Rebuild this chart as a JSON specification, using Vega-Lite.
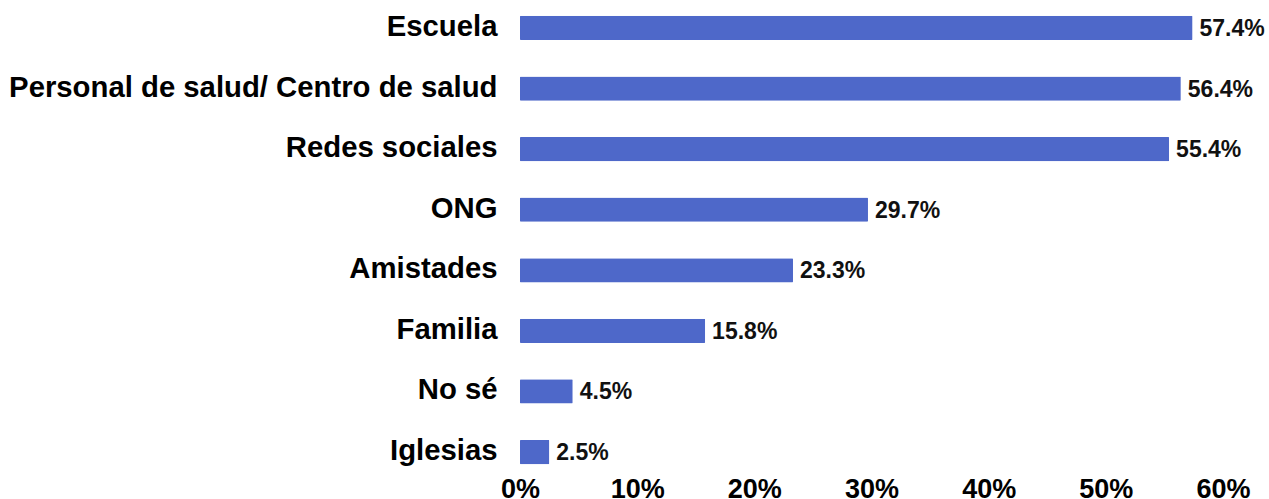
{
  "$schema": "https://vega.github.io/schema/vega-lite/v6.json",
  "autosize": "none",
  "width": 703,
  "height": 480,
  "padding": {"left": 520, "top": 0, "right": 46, "bottom": 19},
  "background": "white",
  "config": {"view": {"stroke": null}, "font": "Liberation Sans"},
  "data": {
    "values": [
      {"source": "Escuela", "share": 0.574},
      {"source": "Personal de salud/ Centro de salud", "share": 0.564},
      {"source": "Redes sociales", "share": 0.554},
      {"source": "ONG", "share": 0.297},
      {"source": "Amistades", "share": 0.233},
      {"source": "Familia", "share": 0.158},
      {"source": "No sé", "share": 0.045},
      {"source": "Iglesias", "share": 0.025}
    ]
  },
  "encoding": {
    "y": {
      "field": "source",
      "type": "nominal",
      "sort": null,
      "scale": {"paddingInner": 0.6, "paddingOuter": 0.262},
      "axis": {
        "title": null,
        "domain": false,
        "ticks": false,
        "labelFont": "Liberation Sans",
        "labelFontSize": 29.3,
        "labelFontWeight": "bold",
        "labelColor": "#000000",
        "labelPadding": 23,
        "labelOffset": -1,
        "labelLimit": 600
      }
    },
    "x": {
      "field": "share",
      "type": "quantitative",
      "scale": {"domain": [0, 0.6], "nice": false},
      "axis": {
        "title": null,
        "domain": false,
        "ticks": false,
        "grid": false,
        "values": [0, 0.1, 0.2, 0.3, 0.4, 0.5, 0.6],
        "format": ".0%",
        "labelFont": "Liberation Sans",
        "labelFontSize": 27,
        "labelFontWeight": "bold",
        "labelColor": "#000000",
        "labelPadding": -4,
        "labelFlush": false,
        "labelOverlap": false
      }
    }
  },
  "layer": [
    {"mark": {"type": "bar", "color": "#4e68c9", "cornerRadius": 1}},
    {
      "mark": {
        "type": "text",
        "align": "left",
        "baseline": "middle",
        "dx": 7,
        "dy": 1,
        "fontSize": 23,
        "fontWeight": "bold",
        "font": "Liberation Sans",
        "color": "#111111"
      },
      "encoding": {"text": {"field": "share", "type": "quantitative", "format": ".1%"}}
    }
  ]
}
